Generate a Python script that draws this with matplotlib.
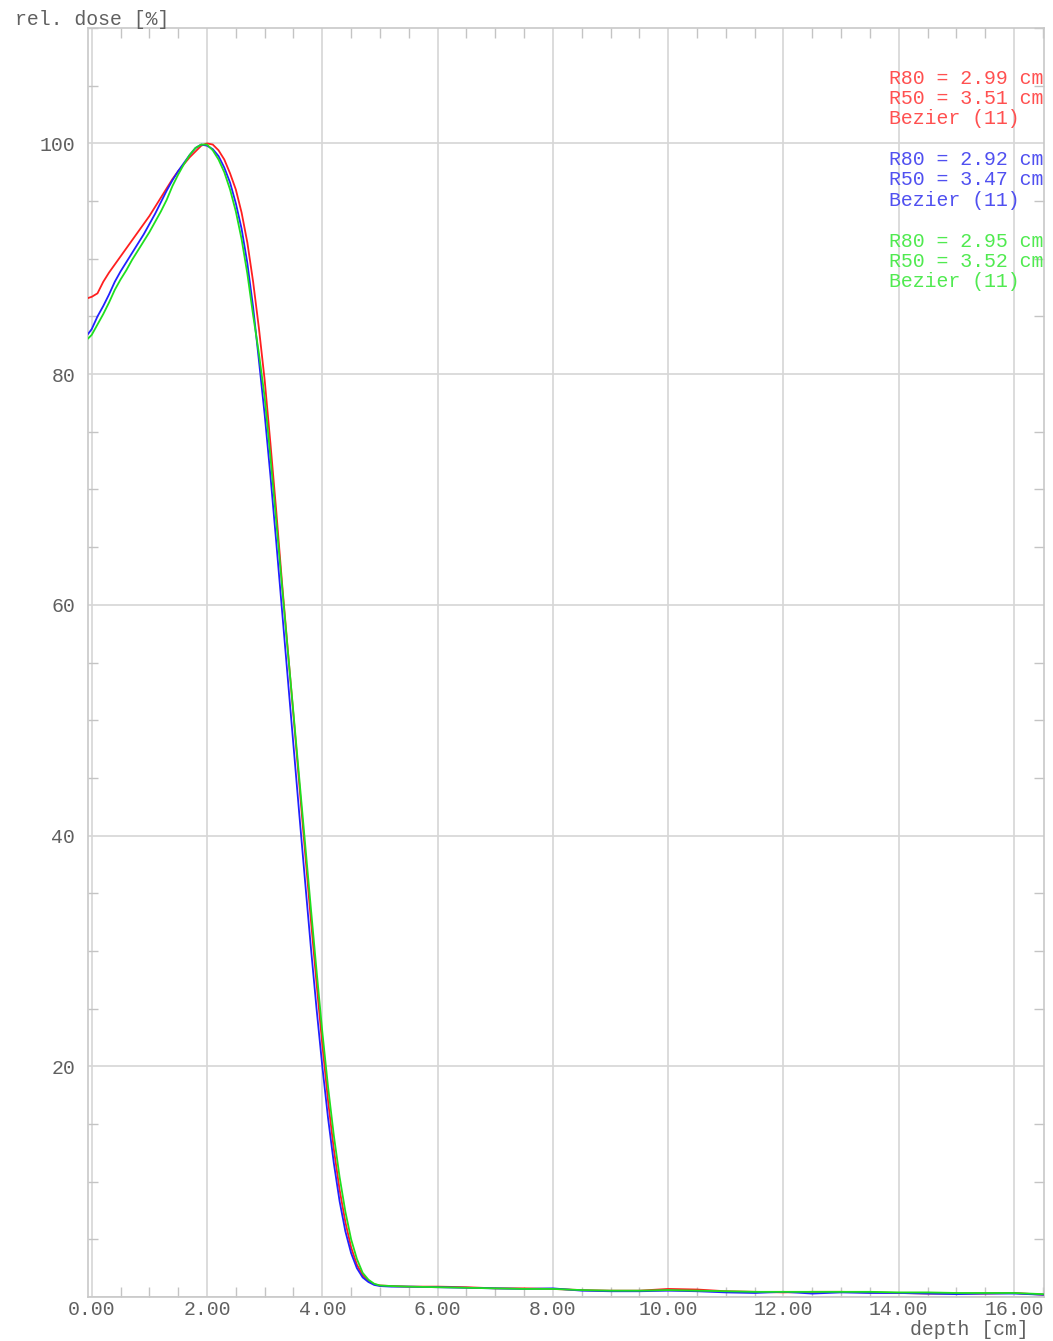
import matplotlib
matplotlib.use("Agg")
import matplotlib.pyplot as plt
from matplotlib.ticker import MultipleLocator, FormatStrFormatter, FuncFormatter

# depth grid shared by the three measured depth-dose curves [cm]
depth = [-0.06, 0.0, 0.1, 0.2, 0.3, 0.4, 0.5, 0.6, 0.7, 0.8, 0.9, 1.0,
         1.1, 1.2, 1.3, 1.4, 1.5, 1.6, 1.7, 1.8, 1.9, 2.0, 2.1, 2.2, 2.3,
         2.4, 2.5, 2.6, 2.7, 2.8, 2.9, 3.0, 3.1, 3.2, 3.3, 3.4, 3.5, 3.6,
         3.7, 3.8, 3.9, 4.0, 4.1, 4.2, 4.3, 4.4, 4.5, 4.6, 4.7, 4.8, 4.9,
         5.0, 5.2, 5.5, 6.0, 6.5, 7.0, 7.5, 8.0, 8.5, 9.0, 9.5, 10.0, 10.5,
         11.0, 11.5, 12.0, 12.5, 13.0, 13.5, 14.0, 14.5, 15.0, 15.5, 16.0,
         16.5]

# relative dose [%]
dose_red = [86.6, 86.7, 87.0, 88.0, 88.8, 89.5, 90.2, 90.9, 91.6, 92.3, 93.0, 93.7,
            94.5, 95.3, 96.1, 96.9, 97.6, 98.2, 98.8, 99.3, 99.8, 100.0, 99.9, 99.4, 98.6,
            97.4, 96.0, 94.0, 91.4, 88.0, 84.0, 79.5, 74.0, 68.2, 62.0, 56.2, 50.4, 44.5,
            38.6, 32.8, 27.2, 21.9, 17.0, 12.8, 9.3, 6.5, 4.3, 2.8, 1.9, 1.4, 1.1,
            1.0, 0.95, 0.9, 0.9, 0.85, 0.75, 0.75, 0.7, 0.6, 0.55, 0.55, 0.7, 0.65,
            0.5, 0.45, 0.4, 0.45, 0.45, 0.4, 0.35, 0.3, 0.3, 0.3, 0.35,
            0.2]

dose_blue = [83.5, 83.9, 85.0, 85.9, 86.9, 88.0, 88.9, 89.7, 90.5, 91.3, 92.1, 93.0,
             93.9, 94.9, 95.9, 96.8, 97.6, 98.3, 99.0, 99.6, 99.9, 99.8, 99.5, 98.9, 97.9,
             96.6, 94.8, 92.6, 89.6, 85.8, 81.2, 76.5, 71.2, 65.5, 59.6, 53.7, 47.8, 41.9,
             36.1, 30.4, 25.0, 20.0, 15.5, 11.6, 8.3, 5.7, 3.8, 2.5, 1.7, 1.3, 1.05,
             0.95, 0.9, 0.9, 0.85, 0.8, 0.75, 0.7, 0.75, 0.55, 0.5, 0.5, 0.55, 0.5,
             0.4, 0.35, 0.45, 0.3, 0.4, 0.35, 0.35, 0.3, 0.25, 0.3, 0.3,
             0.2]

dose_green = [83.1, 83.4, 84.3, 85.2, 86.2, 87.3, 88.2, 89.0, 89.9, 90.7, 91.5, 92.3,
              93.2, 94.1, 95.1, 96.3, 97.3, 98.2, 99.0, 99.6, 99.9, 99.9, 99.4, 98.6, 97.5,
              96.0, 94.1, 91.7, 88.7, 85.1, 81.8, 78.0, 72.8, 67.3, 61.7, 56.1, 50.6, 45.0,
              39.4, 33.8, 28.3, 23.0, 18.2, 14.0, 10.4, 7.4, 5.0, 3.3, 2.1, 1.5, 1.15,
              1.0, 0.95, 0.9, 0.85, 0.8, 0.75, 0.7, 0.7, 0.6, 0.55, 0.55, 0.6, 0.55,
              0.5, 0.45, 0.45, 0.45, 0.45, 0.45, 0.4, 0.4, 0.35, 0.35, 0.35,
              0.25]

curve_colors = ["#ff1f1f", "#2121ff", "#1fe01f"]
text_colors = ["#ff5050", "#5050f0", "#50ea50"]
r80_values = [2.99, 2.92, 2.95]
r50_values = [3.51, 3.47, 3.52]
fit_labels = ["Bezier (11)", "Bezier (11)", "Bezier (11)"]

MONO = ["Liberation Mono", "DejaVu Sans Mono"]
GREY_TEXT = "#606060"
FS = 14.3

fig = plt.figure(figsize=(10.53, 13.41), dpi=100)
ax = fig.add_axes([0.0831, 0.0328, 0.9084, 0.9463])

for d, c in zip([dose_red, dose_blue, dose_green], curve_colors):
    ax.plot(depth, d, color=c, lw=1.3, solid_joinstyle="round", zorder=3)

ax.set_xlim(-0.073, 16.52)
ax.set_ylim(0, 110)

ax.xaxis.set_major_locator(MultipleLocator(2))
ax.xaxis.set_minor_locator(MultipleLocator(0.5))
ax.yaxis.set_major_locator(MultipleLocator(20))
ax.yaxis.set_minor_locator(MultipleLocator(5))
ax.xaxis.set_major_formatter(FormatStrFormatter("%.2f"))
# the zero of the dose axis carries no label
ax.yaxis.set_major_formatter(
    FuncFormatter(lambda v, p: "" if abs(v) < 1e-9 else "%d" % v))

ax.grid(which="major", color="#d6d6d6", lw=1.2, zorder=0)
ax.set_axisbelow(True)

for s in ax.spines.values():
    s.set_color("#c8c8c8")
    s.set_linewidth(1.2)

ax.tick_params(which="both", direction="in", top=True, right=True,
               color="#c4c4c4", width=1.0)
ax.tick_params(which="minor", length=7.2)
ax.tick_params(which="major", length=0)
ax.tick_params(axis="x", which="major", pad=2, labelsize=FS, labelcolor=GREY_TEXT)
ax.tick_params(axis="y", which="major", pad=9.0, labelsize=FS, labelcolor=GREY_TEXT)
for lab in ax.get_xticklabels() + ax.get_yticklabels():
    lab.set_fontfamily(MONO)

fig.text(15 / 1053, 1 - 25 / 1341, "rel. dose [%]", ha="left", va="baseline",
         fontsize=FS, color=GREY_TEXT, family=MONO)
fig.text(1029 / 1053, 1 - 1335 / 1341, "depth [cm]", ha="right", va="baseline",
         fontsize=FS, color=GREY_TEXT, family=MONO)

# range annotations, one block per curve
base_y = [105.18, 98.11, 91.05]
step = 1.76
for i in range(3):
    lines = ["R80 = %.2f cm" % r80_values[i],
             "R50 = %.2f cm" % r50_values[i],
             fit_labels[i]]
    for k, t in enumerate(lines):
        ax.text(13.83, base_y[i] - k * step, t, color=text_colors[i],
                fontsize=FS, family=MONO, ha="left", va="baseline",
                clip_on=False, zorder=4)

fig.savefig("out.png", dpi=100, facecolor="white")
